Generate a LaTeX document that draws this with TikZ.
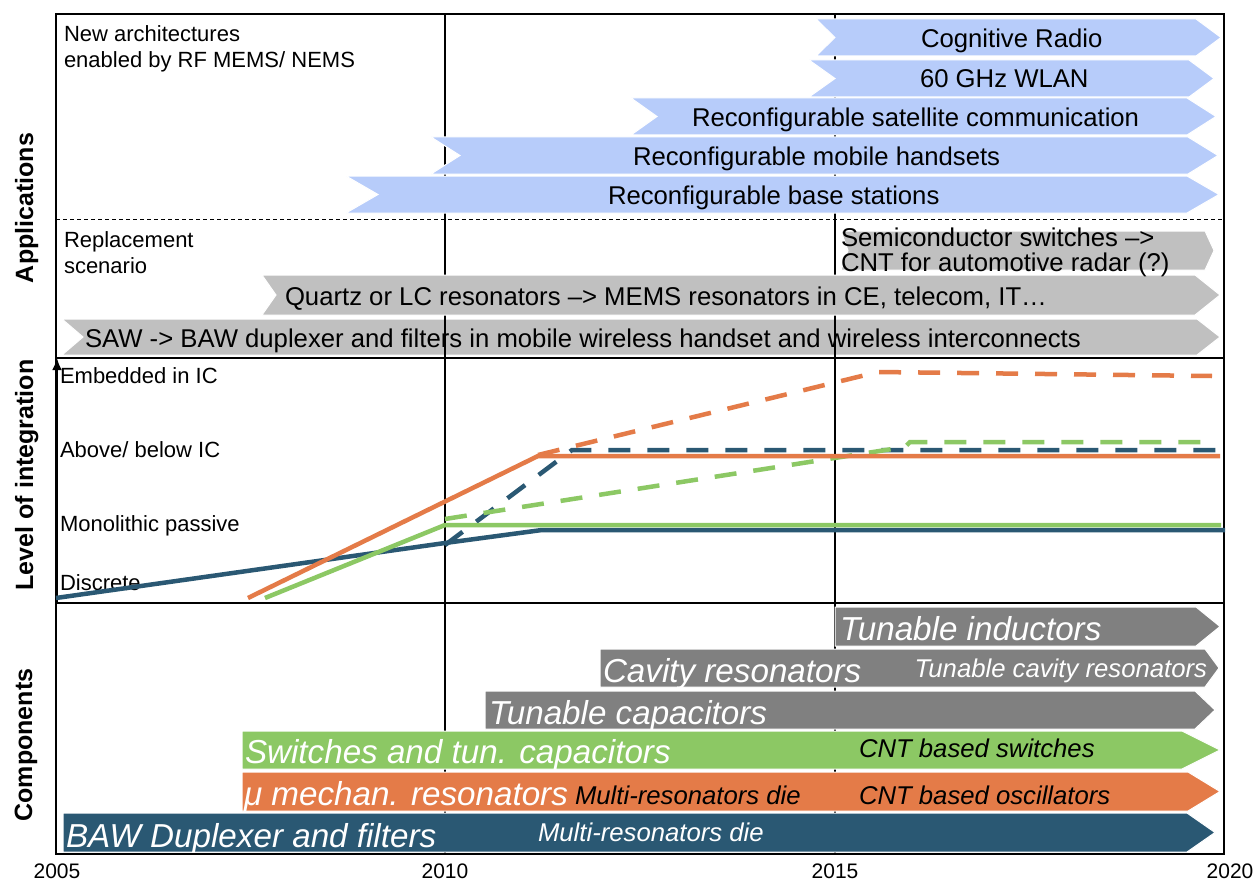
\documentclass[tikz,border=0pt]{standalone}
\usepackage{fontspec}
\setmainfont{Liberation Sans}
\usetikzlibrary{arrows.meta}
\definecolor{blueL}{HTML}{B7CCFA}
\definecolor{greyL}{HTML}{C0C0C0}
\definecolor{greyD}{HTML}{808080}
\definecolor{greenC}{HTML}{8CC864}
\definecolor{orangeC}{HTML}{E47B48}
\definecolor{navyC}{HTML}{2A5873}
\newcommand\fApp{\fontsize{25.7}{25}\selectfont}
\newcommand\fLab{\fontsize{22}{26}\selectfont}
\newcommand\fBig{\fontsize{33.2}{34}\selectfont\itshape}
\newcommand\fSm{\fontsize{25.7}{25}\selectfont\itshape}
\newcommand\fSec{\fontsize{25}{25}\selectfont\bfseries}
\newcommand\fYr{\fontsize{21}{21}\selectfont}
% tail x, notch x, body end x, tip x, top y, bottom y, colour
\newcommand\chev[7]{\fill[#7, draw=white, line width=1]
  (#1,#5) -- (#3,#5) -- (#4,{(#5+#6)/2}) -- (#3,#6) -- (#1,#6) -- (#2,{(#5+#6)/2}) -- cycle;}
\tikzset{
  txt/.style={inner sep=0pt, outer sep=0pt},
  gridline/.style={line width=2, black},
  chartline/.style={line width=4.5},
  dashline/.style={line width=4.5, dash pattern=on 22 off 17},
}
\begin{document}
\begin{tikzpicture}[x=1pt,y=-1pt]
\useasboundingbox (0,0) rectangle (1255,880);
\fill[white] (0,0) rectangle (1255,880);
% grid under arrows
\draw[gridline] (445,14) -- (445,854);
\draw[gridline] (835,14) -- (835,854);
\draw[line width=1, dash pattern=on 4 off 3] (56,219) -- (1224,219);
% application arrows
\chev{816}{835}{1196}{1221}{19}{56}{blueL}
\chev{809}{835}{1189}{1214}{60}{97}{blueL}
\chev{631}{657}{1187}{1216}{98}{135}{blueL}
\chev{431}{460}{1188}{1218}{137}{174}{blueL}
\chev{346}{378}{1187}{1219}{176}{213}{blueL}
\chev{841}{848}{1205}{1214}{231}{270}{greyL}
\chev{262}{276}{1195}{1220}{275}{315}{greyL}
\chev{62}{83}{1197}{1220}{319}{355}{greyL}
\node[txt, anchor=base west] (cr) at (921,48) {\fApp Cognitive Radio};
\node[txt, anchor=base west] (wlan) at (920,88) {\fApp 60 GHz WLAN};
\node[txt, anchor=base west] (sat) at (692,127) {\fApp Reconfigurable satellite communication};
\node[txt, anchor=base west] (mob) at (633,165) {\fApp Reconfigurable mobile handsets};
\node[txt, anchor=base west] (bs) at (608,204) {\fApp Reconfigurable base stations};
\node[txt, anchor=base west] (semi1) at (841,246) {\fApp Semiconductor switches –>};
\node[txt, anchor=base west] (semi2) at (841,271) {\fApp CNT for automotive radar (?)};
\node[txt, anchor=base west] (qz) at (285,305) {\fApp Quartz or LC resonators –> MEMS resonators in CE, telecom, IT…};
% grid over SAW arrow
\draw[gridline] (445,316) -- (445,360);
\draw[gridline] (835,316) -- (835,360);
\node[txt, anchor=base west] (saw) at (85,347) {\fApp SAW -> BAW duplexer and filters in mobile wireless handset and wireless interconnects};
% labels
\node[txt, anchor=base west] (na1) at (64,42) {\fLab New architectures};
\node[txt, anchor=base west] (na2) at (64,68) {\fLab enabled by RF MEMS/ NEMS};
\node[txt, anchor=base west] (rs1) at (64,247) {\fLab Replacement};
\node[txt, anchor=base west] (rs2) at (64,273) {\fLab scenario};
\node[txt, anchor=base west] (l1) at (60,383) {\fLab Embedded in IC};
\node[txt, anchor=base west] (l2) at (60,457) {\fLab Above/ below IC};
\node[txt, anchor=base west] (l3) at (60,531) {\fLab Monolithic passive};
\node[txt, anchor=base west] (l4) at (60,590) {\fLab Discrete};
% component arrows
\chev{835}{835}{1196}{1220}{607}{646}{greyD}
\chev{600}{600}{1205}{1219}{649}{687}{greyD}
\chev{485}{485}{1195}{1215}{691}{729}{greyD}
\chev{242}{242}{1182}{1220}{731}{769}{greenC}
\chev{242}{242}{1188}{1220}{772}{811}{orangeC}
\chev{63}{63}{1187}{1215}{813}{852}{navyC}
\node[txt, anchor=base west, white] (ti) at (840,640) {\fBig Tunable inductors};
\node[txt, anchor=base west, white] (cav) at (603,682) {\fBig Cavity resonators};
\node[txt, anchor=base east, white] (tcav) at (1207,677) {\fSm Tunable cavity resonators};
\node[txt, anchor=base west, white] (tc) at (489,724) {\fBig Tunable capacitors};
\node[txt, anchor=base west, white] (sw) at (245,763) {\fBig Switches and tun. capacitors};
\node[txt, anchor=base west] (cnts) at (859,757) {\fSm CNT based switches};
\node[txt, anchor=base west, white] (mu) at (244,805) {\fBig μ mechan. resonators};
\node[txt, anchor=base west] (mrd1) at (575,804) {\fSm Multi-resonators die};
\node[txt, anchor=base west] (cnto) at (859,804) {\fSm CNT based oscillators};
\node[txt, anchor=base west, white] (baw) at (66,847) {\fBig BAW Duplexer and filters};
\node[txt, anchor=base west, white] (mrd2) at (538,841) {\fSm Multi-resonators die};
% frame and separators
\draw[line width=2] (56,14) rectangle (1224,854);
\draw[line width=2.5] (56,358) -- (1224,358);
\draw[line width=2.5] (56,603) -- (1224,603);
% level axis arrow
\draw[line width=2.5, -{Latex[length=12, width=10]}] (57,603) -- (57,358);
% chart lines
\draw[chartline, navyC] (56,598) -- (445,543) -- (542,530) -- (1225,530);
\draw[dashline, navyC] (445,545) -- (572,450) -- (1223,450);
\draw[chartline, greenC] (265,598) -- (445,525) -- (1221,525);
\draw[dashline, greenC] (445,519) -- (905,447) -- (910,442) -- (1208,442);
\draw[chartline, orangeC] (248,598) -- (538,456) -- (1220,456);
\draw[dashline, orangeC] (538,455) -- (878,372) -- (1212,376);
% section titles
\node[txt, rotate=90, anchor=base] (app) at (33,208) {\fSec Applications};
\node[txt, rotate=90, anchor=base] (loi) at (33,475) {\fSec Level of integration};
\node[txt, rotate=90, anchor=base] (comp) at (32,745) {\fSec Components};
% years
\node[txt, anchor=base] (y05) at (57,878) {\fYr 2005};
\node[txt, anchor=base] (y10) at (445,878) {\fYr 2010};
\node[txt, anchor=base] (y15) at (835,878) {\fYr 2015};
\node[txt, anchor=base] (y20) at (1230,878) {\fYr 2020};
\end{tikzpicture}
\end{document}
